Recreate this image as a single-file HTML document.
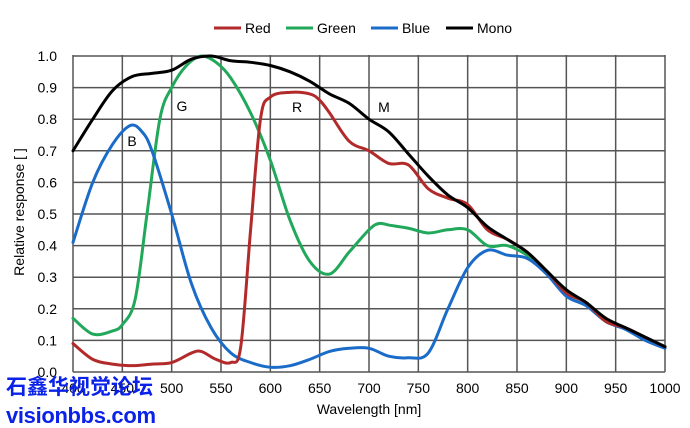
<!DOCTYPE html>
<html><head><meta charset="utf-8"><style>
body{margin:0;background:#fff;width:690px;height:428px;overflow:hidden}
svg{display:block;font-family:"Liberation Sans",Arial,sans-serif}
</style></head><body>
<svg id="s" width="690" height="428" viewBox="0 0 690 428">
<g id="grid"></g>
<g id="curves" fill="none" stroke-width="3" stroke-linejoin="round" stroke-linecap="round"></g>
<g font-size="14" fill="#000">
<text x="132" y="146" text-anchor="middle">B</text>
<text x="182" y="111" text-anchor="middle">G</text>
<text x="297" y="112" text-anchor="middle">R</text>
<text x="384" y="112" text-anchor="middle">M</text>
</g>
<g font-size="14" fill="#000">
<line x1="214" y1="28" x2="241" y2="28" stroke="#b22a2a" stroke-width="3"/><text x="245" y="33">Red</text>
<line x1="286" y1="28" x2="313" y2="28" stroke="#22a85a" stroke-width="3"/><text x="317" y="33">Green</text>
<line x1="371" y1="28" x2="398" y2="28" stroke="#1a6cc8" stroke-width="3"/><text x="402" y="33">Blue</text>
<line x1="446" y1="28" x2="473" y2="28" stroke="#000" stroke-width="3"/><text x="477" y="33">Mono</text>
</g>
<text x="369" y="414" font-size="14" text-anchor="middle">Wavelength [nm]</text>
<text transform="translate(24,212) rotate(-90)" font-size="14" text-anchor="middle">Relative response [ ]</text>
<text x="6" y="394" font-size="21" font-weight="bold" fill="#0a22e8" font-family="'Noto Sans CJK SC',sans-serif">石鑫华视觉论坛</text>
<text x="6" y="423" font-size="22" font-weight="bold" fill="#0a22e8" textLength="150">visionbbs.com</text>
</svg>
<script>
var X=w=>73+(w-400)*0.98667, Y=v=>372-v*316;
var g=document.getElementById('grid'),h='';
for(var i=0;i<=12;i++){var x=X(400+50*i);h+=`<line x1="${x}" y1="55" x2="${x}" y2="372" stroke="#555" stroke-width="1.5"/>`;
var t=400+50*i;h+=`<text x="${x}" y="393" font-size="14" text-anchor="middle">${t}</text>`;}
for(var j=0;j<=10;j++){var y=Y(j/10);h+=`<line x1="73" y1="${y}" x2="665" y2="${y}" stroke="#555" stroke-width="1.5"/>`;
h+=`<text x="57" y="${y+5}" font-size="14" text-anchor="end">${(j/10).toFixed(1)}</text>`;}
g.innerHTML=h;
function P(d){var p=d.map(a=>[X(a[0]),Y(a[1])]),s=`M${p[0][0]},${p[0][1]}`;
for(var i=0;i<p.length-1;i++){var a=p[i-1]||p[i],b=p[i],c=p[i+1],e=p[i+2]||c;
s+=`C${b[0]+(c[0]-a[0])/6},${b[1]+(c[1]-a[1])/6} ${c[0]-(e[0]-b[0])/6},${c[1]-(e[1]-b[1])/6} ${c[0]},${c[1]}`;}return s;}
var D={
'#22a85a':[[400,.17],[420,.12],[440,.13],[450,.15],[463,.23],[475,.5],[488,.8],[500,.9],[515,.97],[530,1],[545,.98],[560,.93],[580,.82],[600,.67],[620,.48],[640,.35],[660,.31],[680,.38],[700,.45],[710,.47],[720,.465],[740,.455],[760,.44],[780,.45],[800,.45],[820,.4],[840,.4],[860,.37],[880,.32],[900,.25],[920,.22],[940,.16],[960,.14],[980,.11],[1000,.08]],
'#1a6cc8':[[400,.41],[420,.6],[440,.72],[458,.78],[470,.76],[480,.7],[500,.5],[520,.28],[540,.14],[560,.06],[580,.03],[600,.015],[620,.02],[640,.04],[660,.065],[680,.075],[700,.075],[720,.05],[740,.045],[760,.06],[780,.2],[800,.33],[820,.385],[840,.37],[860,.36],[880,.31],[900,.24],[920,.21],[940,.16],[960,.135],[980,.1],[1000,.075]],
'#b22a2a':[[400,.09],[420,.04],[440,.025],[460,.02],[480,.025],[500,.03],[520,.06],[530,.065],[545,.04],[560,.03],[570,.08],[580,.45],[590,.8],[600,.87],[620,.885],[640,.88],[650,.86],[660,.82],[680,.73],[700,.7],[720,.66],[740,.655],[760,.58],[780,.55],[800,.53],[820,.45],[840,.42],[860,.38],[880,.32],[900,.25],[920,.22],[940,.16],[960,.14],[980,.11],[1000,.08]],
'#000':[[400,.7],[420,.8],[440,.89],[460,.935],[480,.945],[500,.955],[520,.99],[540,1],[560,.985],[580,.98],[600,.97],[620,.95],[640,.92],[660,.88],[680,.85],[700,.8],[720,.76],[740,.69],[760,.62],[780,.56],[800,.52],[820,.46],[840,.42],[860,.38],[880,.32],[900,.26],[920,.22],[940,.17],[960,.14],[980,.11],[1000,.08]]};
var c='';for(var k in D)c+=`<path d="${P(D[k])}" stroke="${k}"/>`;
document.getElementById('curves').innerHTML=c;
</script>
</body></html>
